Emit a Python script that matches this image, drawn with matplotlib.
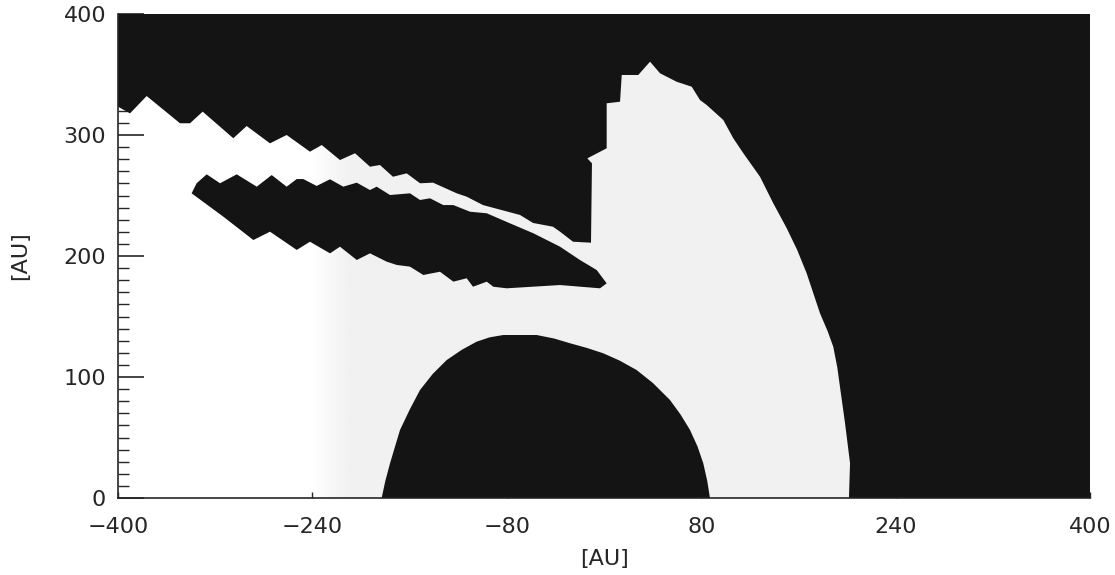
import numpy as np
import matplotlib.pyplot as plt
from matplotlib.colors import LinearSegmentedColormap
from matplotlib.ticker import MultipleLocator

# outer (upper-right) dark region: lower boundary traced from the left edge,
# along the sawtooth band, up the tower and down the outer arc
outer_x = [-400, -390.1, -376.4, -349.0, -340.7, -330.3, -305.1, -294.1, -274.9, -261.2,
           -242.0, -232.3, -217.3, -204.9, -192.6, -184.4, -173.7, -162.4, -151.4, -140.7,
           -121.2, -113.0, -99.6, -69.1, -58.4, -42.0, -36.2, -25.5, -10.7,
           -9.9, -13.7, 2.2, 2.2, 13.2, 14.6, 28.2, 37.9, 46.1, 59.8, 72.2,
           79.0, 84.5, 98.2, 106.4, 114.7, 128.4, 139.3, 150.3, 159.0, 166.8, 177.8,
           184.0, 188.7, 192.0, 194.2, 198.4, 202.5, 201.6, 400, 400, -400]
outer_y = [323.4, 317.9, 332.2, 309.7, 309.7, 319.3, 297.3, 307.4, 293.1, 300.0,
           286.2, 291.7, 279.3, 284.9, 273.8, 275.2, 265.5, 268.3, 260.1, 260.6,
           251.8, 249.0, 242.1, 233.9, 227.3, 224.2, 220.1, 211.8, 211.0,
           276.6, 280.7, 289.0, 326.2, 327.5, 349.6, 349.6, 360.6, 351.0, 344.0, 339.9,
           328.9, 324.8, 312.4, 297.3, 284.9, 265.5, 243.6, 223.1, 205.0, 185.7, 152.6,
           138.0, 125.0, 108.0, 92.0, 61.7, 28.7, 0, 0, 400, 400]

# dark finger between the two bright bands
finger_x = [-339.4, -335.3, -327.0, -316.0, -302.3, -285.8, -273.5, -261.2, -252.9, -247.5,
            -236.5, -225.5, -214.6, -203.5, -192.6, -187.1, -176.1, -159.7, -151.4, -143.2,
            -132.3, -124.0, -110.3, -96.5, -77.4, -58.2, -36.2, -19.8, -6.0, 2.2,
            -3.3, -36.2, -80.1, -91.1, -96.5, -107.8, -113.0, -124.0, -135.0, -148.7,
            -159.7, -170.6, -178.8, -192.6, -203.5, -217.3, -225.5, -242.0, -252.9, -274.9,
            -288.6, -313.3]
finger_y = [251.8, 260.1, 267.5, 260.1, 267.5, 257.3, 266.9, 257.3, 263.6, 263.6,
            257.9, 263.4, 257.3, 260.6, 254.5, 257.3, 250.4, 251.8, 246.3, 247.7,
            242.1, 242.1, 236.6, 235.3, 227.0, 218.8, 207.7, 196.7, 188.4, 177.4,
            173.3, 176.0, 173.3, 174.6, 178.8, 174.6, 181.6, 178.8, 187.0, 184.3,
            191.2, 192.6, 195.3, 202.2, 196.7, 207.7, 202.2, 211.8, 205.0, 220.1,
            213.2, 232.5]

# dark dome sitting on the midplane
dome_x = [-183.0, -180.0, -176.1, -172.0, -167.9, -159.7, -151.4, -141.0, -129.5, -117.0,
          -104.8, -94.0, -82.9, -55.4, -41.0, -28.0, -14.0, -0.6, 13.0, 26.8,
          40.3, 54.3, 63.0, 70.8, 77.0, 81.7, 85.0, 87.2]
dome_y = [0, 14.0, 28.7, 42.5, 56.2, 73.5, 89.3, 102.5, 114.0, 122.5,
          129.2, 132.8, 134.7, 134.7, 131.8, 127.9, 124.0, 119.6, 113.5, 105.8,
          95.0, 81.0, 69.0, 56.2, 42.5, 28.7, 14.0, 0]

xticks = [-400, -240, -80, 80, 240, 400]
yticks = [0, 100, 200, 300, 400]

dark = '#141414'
ink = '#262626'
plt.rcParams['font.family'] = 'DejaVu Sans'

fig = plt.figure(figsize=(11.15, 5.75), dpi=100)
ax = fig.add_axes([118/1115, 77/575, 972/1115, 484/575])
ax.set_facecolor('white')

# faint grey wash over the inner part of the bright region
wash = LinearSegmentedColormap.from_list('wash', ['#ffffff', '#f1f1f1'])
ramp = np.clip((np.linspace(-400, 400, 400) + 240) / 30, 0, 1)[np.newaxis, :]
ax.imshow(ramp, cmap=wash, extent=(-400, 400, 0, 400), aspect='auto',
          interpolation='bilinear', zorder=0.5)

ax.fill(outer_x, outer_y, color=dark, lw=0, zorder=1)
ax.fill(finger_x, finger_y, color=dark, lw=0, zorder=1)
ax.fill(dome_x, dome_y, color=dark, lw=0, zorder=1)

# ticks sit above the wash but under the dark regions
ax.xaxis.set_zorder(0.8)
ax.yaxis.set_zorder(0.8)

ax.set_xlim(-400, 400)
ax.set_ylim(0, 400)
ax.set_xticks(xticks)
ax.set_yticks(yticks)
ax.yaxis.set_minor_locator(MultipleLocator(10))
ax.tick_params(axis='y', which='major', direction='in', length=19, width=1.2,
               pad=8.5, labelsize=16, colors=ink)
ax.tick_params(axis='y', which='minor', direction='in', length=8, width=1.0, colors=ink)
ax.tick_params(axis='x', which='major', direction='in', length=4, width=1.0,
               pad=14, labelsize=16, colors=ink)

for side in ['top', 'right']:
    ax.spines[side].set_visible(False)
for side in ['left', 'bottom']:
    ax.spines[side].set_color(ink)
    ax.spines[side].set_linewidth(1.2)

ax.set_xlabel('[AU]', fontsize=16, color=ink, labelpad=8)
ax.set_ylabel('[AU]', fontsize=16, color=ink, labelpad=24)

plt.savefig('out.png', dpi=100)
